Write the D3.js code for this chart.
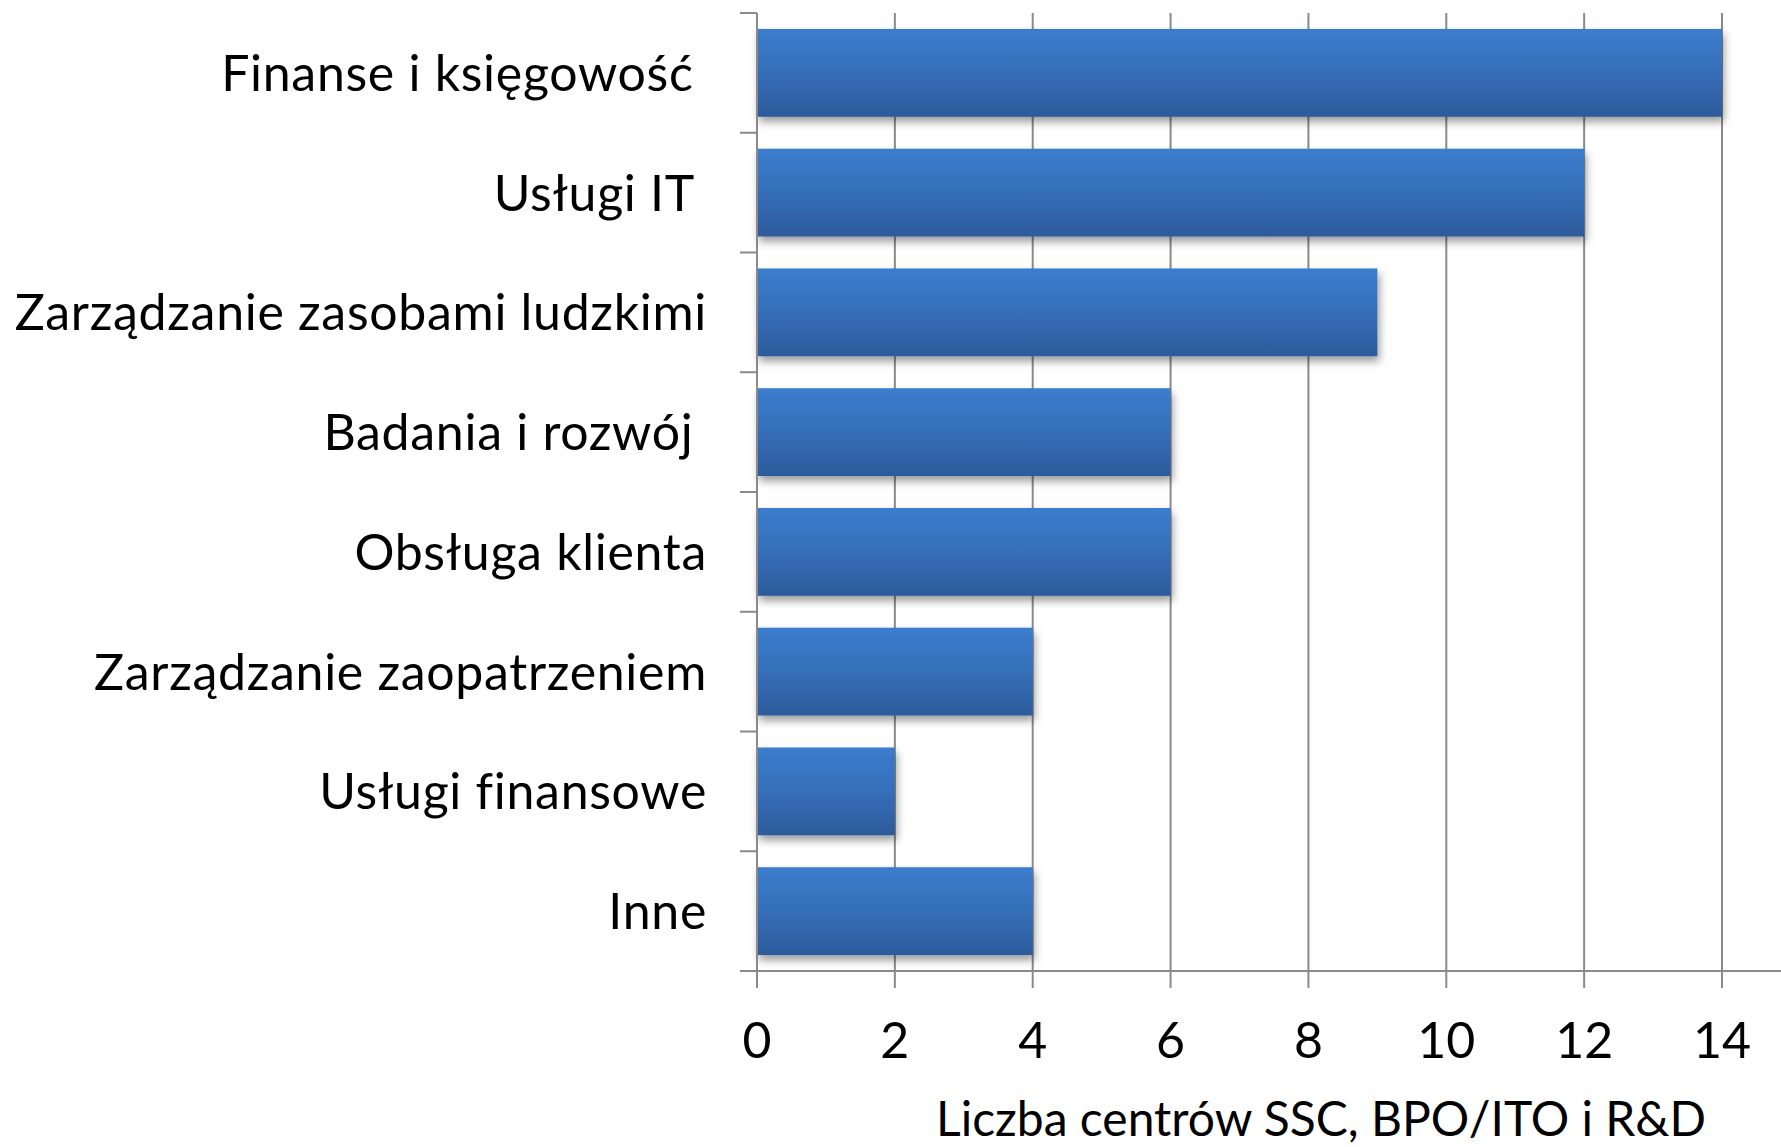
<!DOCTYPE html>
<html>
<head>
<meta charset="utf-8">
<script src="https://cdn.jsdelivr.net/npm/d3@7"></script>
<style>
  html, body { margin: 0; padding: 0; background: #fff; }
  svg { display: block; }
  text { font-family: Lato, "Open Sans", sans-serif; fill: #000; white-space: pre; }
</style>
</head>
<body>
<svg id="chart" width="1781" height="1147"></svg>
<script>
const categories = [
  "Finanse i księgowość ",
  "Usługi IT ",
  "Zarządzanie zasobami ludzkimi",
  "Badania i rozwój ",
  "Obsługa klienta",
  "Zarządzanie zaopatrzeniem",
  "Usługi finansowe",
  "Inne"
];
const values = [14, 12, 9, 6, 6, 4, 2, 4];
const xTicks = [0, 2, 4, 6, 8, 10, 12, 14];
const axisTitle = "Liczba centrów SSC, BPO/ITO i R&D";

const W = 1781, H = 1147;
const m = { left: 757, right: 1722, top: 13, bottom: 971 };
const svg = d3.select("#chart");

const defs = svg.append("defs");
const grad = defs.append("linearGradient").attr("id", "barGrad")
  .attr("x1", 0).attr("y1", 0).attr("x2", 0).attr("y2", 1);
grad.append("stop").attr("offset", "0%").attr("stop-color", "#3b7dcd");
grad.append("stop").attr("offset", "45%").attr("stop-color", "#3670bb");
grad.append("stop").attr("offset", "100%").attr("stop-color", "#2c5b9b");
const f = defs.append("filter").attr("id", "shadow")
  .attr("x", "-5%").attr("y", "-20%").attr("width", "115%").attr("height", "160%");
f.append("feDropShadow").attr("dx", 2).attr("dy", 5).attr("stdDeviation", 4)
  .attr("flood-color", "#000").attr("flood-opacity", 0.4);

const x = d3.scaleLinear().domain([0, 14]).range([m.left, m.right]);
const y = d3.scaleBand().domain(categories).range([m.top, m.bottom])
  .paddingInner(0.2667).paddingOuter(0.1333);

const gridColor = "#8a8a8a";

// vertical gridlines (with tick extension below axis)
svg.append("g").selectAll("line").data(xTicks.filter(d => d > 0)).join("line")
  .attr("x1", d => x(d)).attr("x2", d => x(d))
  .attr("y1", m.top).attr("y2", m.bottom + 17)
  .attr("stroke", gridColor).attr("stroke-width", 2);

// bars
svg.append("g").selectAll("rect").data(categories).join("rect")
  .attr("x", x(0))
  .attr("y", d => y(d))
  .attr("width", (d, i) => x(values[i]) - x(0))
  .attr("height", y.bandwidth())
  .attr("fill", "url(#barGrad)")
  .attr("filter", "url(#shadow)");

// y axis line
svg.append("line")
  .attr("x1", x(0)).attr("x2", x(0))
  .attr("y1", m.top).attr("y2", m.bottom + 17)
  .attr("stroke", gridColor).attr("stroke-width", 2);

// y axis ticks (band boundaries)
const bounds = categories.map(c => y(c) - y.step() * y.paddingInner() / 2);
bounds.push(m.bottom);
bounds[0] = m.top;
svg.append("g").selectAll("line").data(bounds).join("line")
  .attr("x1", x(0) - 17).attr("x2", x(0))
  .attr("y1", d => d).attr("y2", d => d)
  .attr("stroke", gridColor).attr("stroke-width", 2);

// x axis line
svg.append("line")
  .attr("x1", x(0) - 17).attr("x2", W)
  .attr("y1", m.bottom).attr("y2", m.bottom)
  .attr("stroke", gridColor).attr("stroke-width", 2);

// category labels
svg.append("g").selectAll("text").data(categories).join("text")
  .attr("x", 707)
  .attr("y", d => y(d) + y.bandwidth() / 2)
  .attr("dy", "0.36em")
  .attr("text-anchor", "end")
  .attr("font-size", 50)
  .attr("letter-spacing", 0.7)
  .text(d => d);

// x tick labels
svg.append("g").selectAll("text").data(xTicks).join("text")
  .attr("x", d => x(d))
  .attr("y", 1058)
  .attr("text-anchor", "middle")
  .attr("font-size", 50)
  .text(d => d);

// axis title
svg.append("text")
  .attr("x", 1321).attr("y", 1136)
  .attr("text-anchor", "middle")
  .attr("font-size", 48)
  .text(axisTitle);
</script>
</body>
</html>
